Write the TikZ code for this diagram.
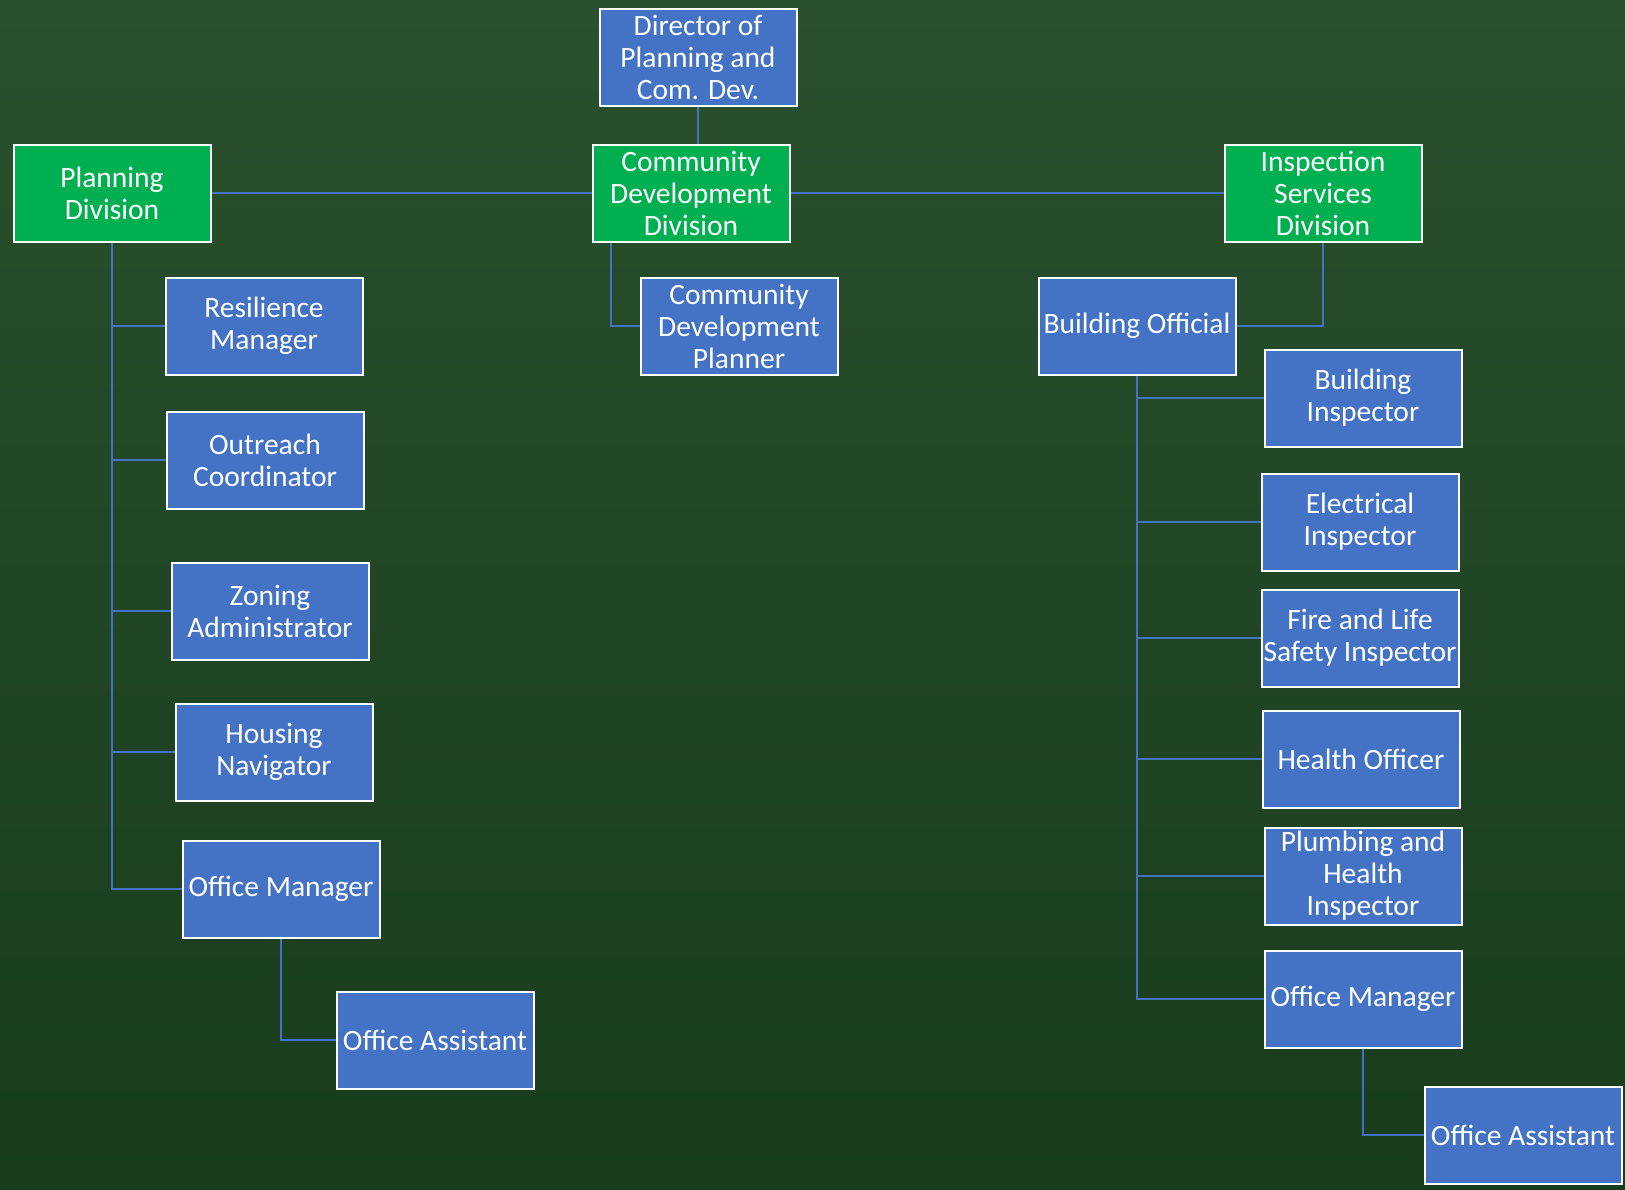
\documentclass[tikz,border=0pt]{standalone}
\usepackage{fontspec}
\setmainfont{Carlito}
\usepackage{tikz}
\usetikzlibrary{positioning}

\definecolor{bggreen}{RGB}{24,60,28}
\definecolor{bglight}{RGB}{42,80,46}
\definecolor{divgreen}{RGB}{0,176,80}
\definecolor{posblue}{RGB}{68,114,196}

\begin{document}
\begin{tikzpicture}[
    x=1pt, y=-1pt,
    every node/.style={font=\fontsize{29.5pt}{32pt}\selectfont, text=white},
    box/.style={draw=white, line width=2pt, minimum width=197pt, minimum height=97pt, inner sep=1pt, align=center},
    division/.style={box, fill=divgreen},
    post/.style={box, fill=posblue},
    link/.style={draw=posblue, line width=2.8pt}
]
    % Background
    \shade[top color=bglight, bottom color=bggreen] (0,0) rectangle (1625,1189);
    \useasboundingbox (0,0) rectangle (1625,1189);

    % Top
    \node[post] (dir) at (698,57) {Director of\\Planning and\\Com. Dev.};

    % Divisions
    \node[division] (pd) at (112,193) {Planning\\Division};
    \node[division] (cdd) at (691,193) {Community\\Development\\Division};
    \node[division] (isd) at (1323,193) {Inspection\\Services\\Division};

    % Planning Division
    \node[post] (resil) at (264,326) {Resilience\\Manager};
    \node[post] (outreach) at (265,460) {Outreach\\Coordinator};
    \node[post] (zoning) at (270,611) {Zoning\\Administrator};
    \node[post] (housing) at (274,752) {Housing\\Navigator};
    \node[post] (pdom) at (281,889) {Office Manager};
    \node[post] (pdoa) at (435,1040) {Office Assistant};

    % Community Development Division
    \node[post] (cdp) at (739,326) {Community\\Development\\Planner};

    % Inspection Services Division
    \node[post] (bo) at (1137,326) {Building Official};
    \node[post] (bldg) at (1363,398) {Building\\Inspector};
    \node[post] (elec) at (1360,522) {Electrical\\Inspector};
    \node[post] (fire) at (1360,638) {Fire and Life\\Safety Inspector};
    \node[post] (health) at (1361,759) {Health Officer};
    \node[post] (plumb) at (1363,876) {Plumbing and\\Health\\Inspector};
    \node[post] (isom) at (1363,999) {Office Manager};
    \node[post] (isoa) at (1523,1135) {Office Assistant};

    % Links
    \draw[link] (dir.south) -- (dir.south |- cdd.north);
    \draw[link] (pd.east) -- (cdd.west);
    \draw[link] (cdd.east) -- (isd.west);

    \draw[link] (pd.south) |- (pdom.west);
    \foreach \n in {resil, outreach, zoning, housing}
        \draw[link] (pd.south |- \n.west) -- (\n.west);
    \draw[link] (pdom.south) |- (pdoa.west);

    \draw[link] ([xshift=-80pt]cdd.south) |- (cdp.west);

    \draw[link] (isd.south) |- (bo.east);
    \draw[link] (bo.south) |- (isom.west);
    \foreach \n in {bldg, elec, fire, health, plumb}
        \draw[link] (bo.south |- \n.west) -- (\n.west);
    \draw[link] (isom.south) |- (isoa.west);
\end{tikzpicture}
\end{document}
